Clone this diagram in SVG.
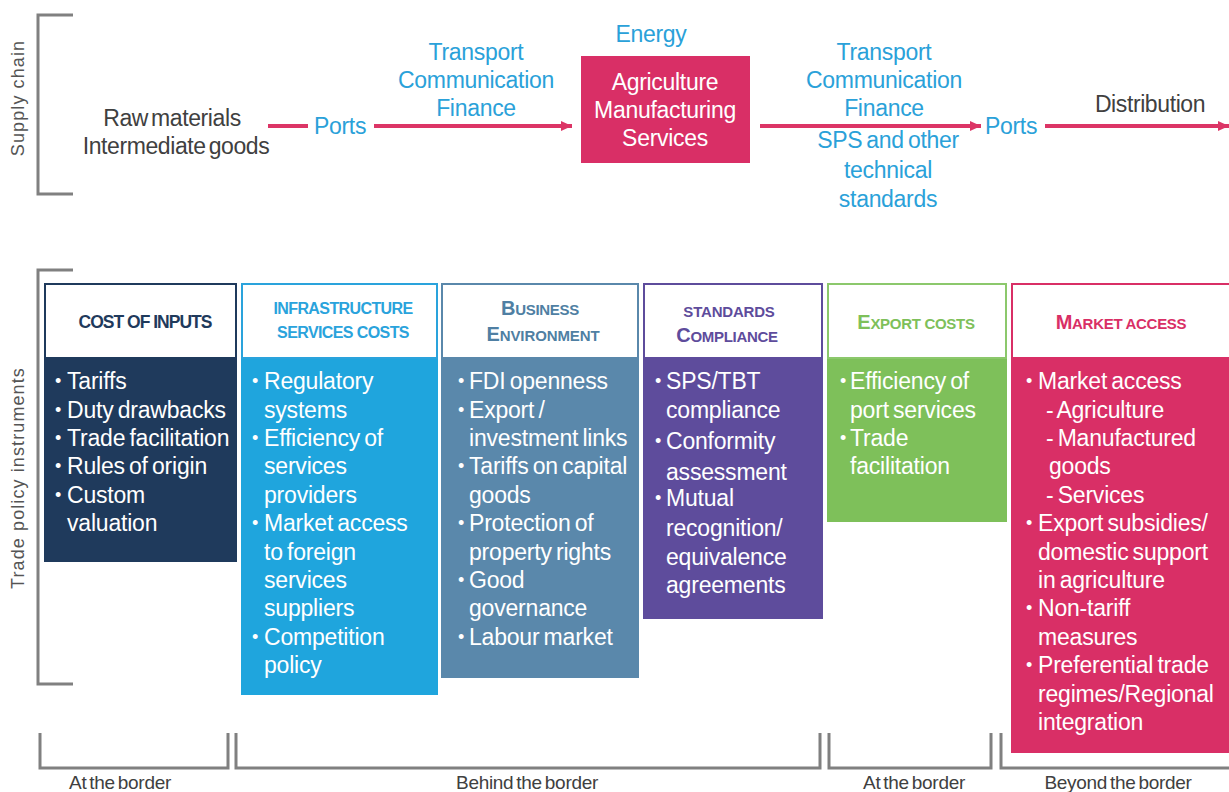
<svg xmlns="http://www.w3.org/2000/svg" width="1229" height="792" viewBox="0 0 1229 792">
  <defs>
    <marker id="arrowhead" markerUnits="userSpaceOnUse" markerWidth="12" markerHeight="12" refX="11" refY="6" orient="auto">
      <path d="M0,1 L11,6 L0,11 z" fill="#dc3566"/>
    </marker>
    <style>
      text { font-family: "Liberation Sans", Arial, sans-serif; }
      .axis { font-size: 18px; fill: #555555; letter-spacing: 1.1px; }
      .chain { font-size: 23px; fill: #404040; text-anchor: middle; letter-spacing: -0.4px; word-spacing: -3px; }
      .svc { font-size: 23px; fill: #2aa1d9; text-anchor: middle; letter-spacing: -0.3px; word-spacing: -2px; }
      .stage { font-size: 23px; fill: #ffffff; text-anchor: middle; letter-spacing: -0.3px; }
      .flow { stroke: #dc3566; stroke-width: 4; fill: none; }
      .bracket { stroke: #808080; stroke-width: 3; fill: none; }
      .zone { font-size: 19px; fill: #404040; text-anchor: middle; letter-spacing: -0.3px; word-spacing: -2px; }
      .head { fill: #ffffff; stroke-width: 2; }
      .htxt { font-weight: bold; text-anchor: middle; }
      .item { font-size: 23px; fill: #ffffff; letter-spacing: -0.2px; word-spacing: -2px; }
      .dot { font-size: 18px; fill: #ffffff; }
    </style>
  </defs>

  <!-- side brackets and axis labels -->
  <g id="axes">
    <path class="bracket" d="M73,15 H38 V194 H73"/>
    <path class="bracket" d="M73,270 H38 V684 H73"/>
    <text class="axis" transform="translate(24,98) rotate(-90)" text-anchor="middle">Supply chain</text>
    <text class="axis" transform="translate(24,478) rotate(-90)" text-anchor="middle">Trade policy instruments</text>
  </g>

  <!-- supply chain flow -->
  <g id="connectors">
    <line class="flow" x1="268" y1="126" x2="308" y2="126"/>
    <line class="flow" x1="374" y1="126" x2="572" y2="126" marker-end="url(#arrowhead)"/>
    <line class="flow" x1="760" y1="126" x2="981" y2="126" marker-end="url(#arrowhead)"/>
    <line class="flow" x1="1045" y1="126" x2="1229" y2="126" marker-end="url(#arrowhead)"/>
  </g>

  <g id="inputs">
    <text class="chain" x="172" y="126">Raw materials</text>
    <text class="chain" x="176" y="154">Intermediate goods</text>
  </g>

  <g id="ports-in">
    <text class="svc" x="340" y="134">Ports</text>
  </g>

  <g id="services-in">
    <text class="svc" x="476" y="60">Transport</text>
    <text class="svc" x="476" y="88">Communication</text>
    <text class="svc" x="476" y="116">Finance</text>
  </g>

  <g id="energy">
    <text class="svc" x="651" y="42">Energy</text>
  </g>

  <g id="production">
    <rect x="581" y="56" width="169" height="107" fill="#d92f66"/>
    <text class="stage" x="665" y="90">Agriculture</text>
    <text class="stage" x="665" y="118">Manufacturing</text>
    <text class="stage" x="665" y="146">Services</text>
  </g>

  <g id="services-out">
    <text class="svc" x="884" y="60">Transport</text>
    <text class="svc" x="884" y="88">Communication</text>
    <text class="svc" x="884" y="116">Finance</text>
    <text class="svc" x="888" y="148">SPS and other</text>
    <text class="svc" x="888" y="178">technical</text>
    <text class="svc" x="888" y="207">standards</text>
  </g>

  <g id="ports-out">
    <text class="svc" x="1011" y="134">Ports</text>
  </g>

  <g id="distribution">
    <text class="chain" x="1150" y="112">Distribution</text>
  </g>

  <!-- policy instrument columns -->
  <g id="cost-of-inputs">
    <rect x="44" y="358" width="193" height="204" fill="#1f3a5c"/>
    <rect class="head" x="45" y="284" width="191" height="74" stroke="#1f3a5c"/>
    <text class="htxt" x="145" y="328" font-size="17.5" fill="#1f3a5c" letter-spacing="-1">COST OF INPUTS</text>
    <text class="dot" x="55" y="387">•</text>
    <text class="dot" x="55" y="416">•</text>
    <text class="dot" x="55" y="444">•</text>
    <text class="dot" x="55" y="472">•</text>
    <text class="dot" x="55" y="501">•</text>
    <text class="item" x="67" y="389">Tariffs</text>
    <text class="item" x="67" y="418">Duty drawbacks</text>
    <text class="item" x="67" y="446">Trade facilitation</text>
    <text class="item" x="67" y="474">Rules of origin</text>
    <text class="item" x="67" y="503">Custom</text>
    <text class="item" x="67" y="531">valuation</text>
  </g>

  <g id="infrastructure">
    <rect x="241" y="358" width="197" height="337" fill="#1fa5dd"/>
    <rect class="head" x="242" y="284" width="195" height="74" stroke="#2aa3dc"/>
    <text class="htxt" x="343" y="314" font-size="16" fill="#2aa3dc" letter-spacing="-0.6">INFRASTRUCTURE</text>
    <text class="htxt" x="343" y="338" font-size="16" fill="#2aa3dc" letter-spacing="-0.6">SERVICES COSTS</text>
    <text class="dot" x="252" y="387">•</text>
    <text class="dot" x="252" y="444">•</text>
    <text class="dot" x="252" y="529">•</text>
    <text class="dot" x="252" y="643">•</text>
    <text class="item" x="264" y="389">Regulatory</text>
    <text class="item" x="264" y="418">systems</text>
    <text class="item" x="264" y="446">Efficiency of</text>
    <text class="item" x="264" y="474">services</text>
    <text class="item" x="264" y="503">providers</text>
    <text class="item" x="264" y="531">Market access</text>
    <text class="item" x="264" y="560">to foreign</text>
    <text class="item" x="264" y="588">services</text>
    <text class="item" x="264" y="616">suppliers</text>
    <text class="item" x="264" y="645">Competition</text>
    <text class="item" x="264" y="673">policy</text>
  </g>

  <g id="business-environment">
    <rect x="441" y="358" width="198" height="320" fill="#5a88ab"/>
    <rect class="head" x="442" y="284" width="196" height="74" stroke="#5a88ab"/>
    <text class="htxt" x="540" y="315" font-size="15" fill="#4f7fa3" letter-spacing="-0.3"><tspan font-size="20">B</tspan>USINESS</text>
    <text class="htxt" x="543" y="341" font-size="15" fill="#4f7fa3" letter-spacing="-0.1"><tspan font-size="20">E</tspan>NVIRONMENT</text>
    <text class="dot" x="458" y="387">•</text>
    <text class="dot" x="458" y="416">•</text>
    <text class="dot" x="458" y="472">•</text>
    <text class="dot" x="458" y="529">•</text>
    <text class="dot" x="458" y="586">•</text>
    <text class="dot" x="458" y="643">•</text>
    <text class="item" x="469" y="389">FDI openness</text>
    <text class="item" x="469" y="418">Export /</text>
    <text class="item" x="469" y="446">investment links</text>
    <text class="item" x="469" y="474">Tariffs on capital</text>
    <text class="item" x="469" y="503">goods</text>
    <text class="item" x="469" y="531">Protection of</text>
    <text class="item" x="469" y="560">property rights</text>
    <text class="item" x="469" y="588">Good</text>
    <text class="item" x="469" y="616">governance</text>
    <text class="item" x="469" y="645">Labour market</text>
  </g>

  <g id="standards-compliance">
    <rect x="643" y="358" width="180" height="261" fill="#5e4c9c"/>
    <rect class="head" x="644" y="284" width="178" height="74" stroke="#5e4c9c"/>
    <text class="htxt" x="729" y="317" font-size="15" fill="#5e4c9c" letter-spacing="-0.2">STANDARDS</text>
    <text class="htxt" x="727" y="342" font-size="15" fill="#5e4c9c" letter-spacing="-0.3"><tspan font-size="20">C</tspan>OMPLIANCE</text>
    <text class="dot" x="655" y="387">•</text>
    <text class="dot" x="655" y="447">•</text>
    <text class="dot" x="655" y="504">•</text>
    <text class="item" x="666" y="389">SPS/TBT</text>
    <text class="item" x="666" y="418">compliance</text>
    <text class="item" x="666" y="449">Conformity</text>
    <text class="item" x="666" y="480">assessment</text>
    <text class="item" x="666" y="506">Mutual</text>
    <text class="item" x="666" y="536">recognition/</text>
    <text class="item" x="666" y="565">equivalence</text>
    <text class="item" x="666" y="593">agreements</text>
  </g>

  <g id="export-costs">
    <rect x="827" y="358" width="180" height="164" fill="#7ec05a"/>
    <rect class="head" x="828" y="284" width="178" height="74" stroke="#8cc86c"/>
    <text class="htxt" x="916" y="329" font-size="15" fill="#7ec05a" letter-spacing="-0.3"><tspan font-size="20">E</tspan>XPORT COSTS</text>
    <text class="dot" x="840" y="387">•</text>
    <text class="dot" x="840" y="444">•</text>
    <text class="item" x="850" y="389">Efficiency of</text>
    <text class="item" x="850" y="418">port services</text>
    <text class="item" x="850" y="446">Trade</text>
    <text class="item" x="850" y="474">facilitation</text>
  </g>

  <g id="market-access">
    <rect x="1011" y="358" width="220" height="395" fill="#d92f66"/>
    <rect class="head" x="1012" y="284" width="220" height="74" stroke="#d92f66"/>
    <text class="htxt" x="1121" y="329" font-size="15" fill="#d92f66" letter-spacing="-0.3"><tspan font-size="20">M</tspan>ARKET ACCESS</text>
    <text class="dot" x="1026" y="387">•</text>
    <text class="dot" x="1026" y="529">•</text>
    <text class="dot" x="1026" y="614">•</text>
    <text class="dot" x="1026" y="671">•</text>
    <text class="item" x="1038" y="389">Market access</text>
    <text class="item" x="1046" y="418">- Agriculture</text>
    <text class="item" x="1046" y="446">- Manufactured</text>
    <text class="item" x="1049" y="474">goods</text>
    <text class="item" x="1046" y="503">- Services</text>
    <text class="item" x="1038" y="531">Export subsidies/</text>
    <text class="item" x="1038" y="560">domestic support</text>
    <text class="item" x="1038" y="588">in agriculture</text>
    <text class="item" x="1038" y="616">Non-tariff</text>
    <text class="item" x="1038" y="645">measures</text>
    <text class="item" x="1038" y="673">Preferential trade</text>
    <text class="item" x="1038" y="702">regimes/Regional</text>
    <text class="item" x="1038" y="730">integration</text>
  </g>

  <!-- border zones -->
  <g id="zones">
    <path class="bracket" d="M40,733 V768 H228 V733"/>
    <path class="bracket" d="M236,733 V768 H820 V733"/>
    <path class="bracket" d="M829,733 V768 H991 V733"/>
    <path class="bracket" d="M1001,733 V768 H1229"/>
    <text class="zone" x="120" y="789">At the border</text>
    <text class="zone" x="527" y="789">Behind the border</text>
    <text class="zone" x="914" y="789">At the border</text>
    <text class="zone" x="1118" y="789">Beyond the border</text>
  </g>
</svg>
